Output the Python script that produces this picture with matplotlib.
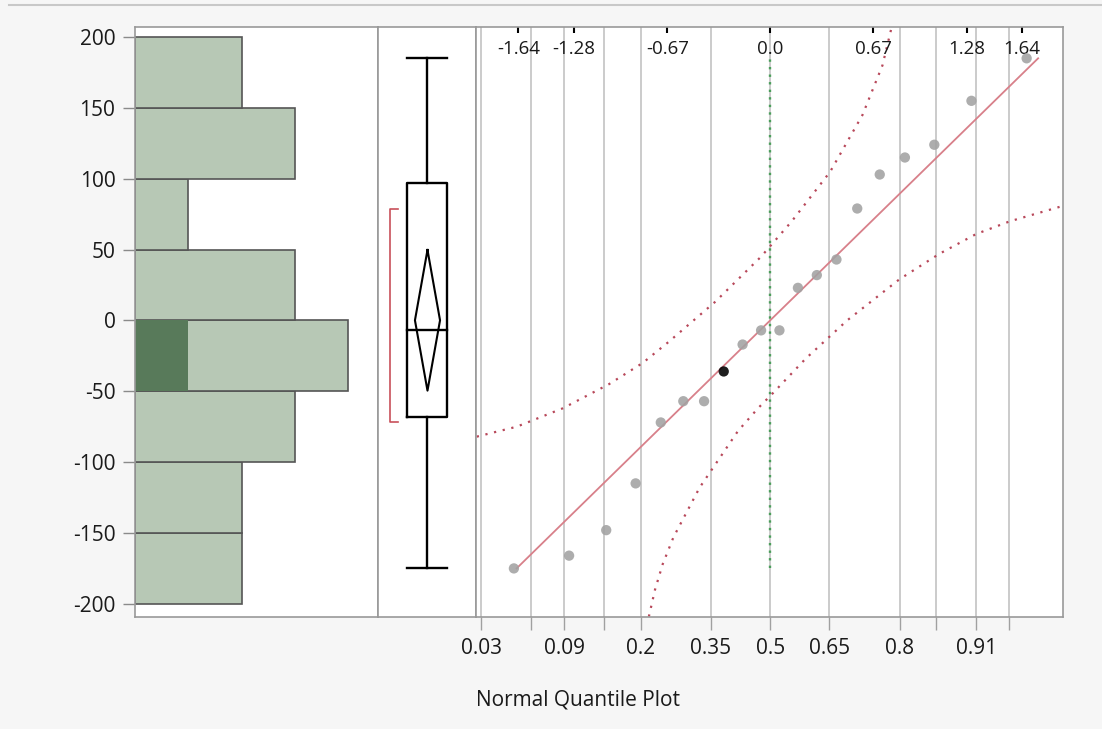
import numpy as np
import matplotlib
matplotlib.use('Agg')
import matplotlib.pyplot as plt
from matplotlib.lines import Line2D
from statistics import NormalDist

plt.rcParams['font.family'] = ['Open Sans', 'DejaVu Sans']
plt.rcParams['axes.unicode_minus'] = False

values = [-175, -166, -148, -115, -72, -57, -57, -36, -17, -7,
          -7, 23, 32, 43, 79, 103, 115, 124, 155, 185]
selected = 7  # highlighted row (black dot / dark bar)

bin_edges = [-200, -150, -100, -50, 0, 50, 100, 150, 200]
y_ticks = [-200, -150, -100, -50, 0, 50, 100, 150, 200]

# probability grid of the normal quantile axis
grid_probs = [0.03, 0.06, 0.09, 0.14, 0.2, 0.35, 0.5, 0.65, 0.8, 0.86, 0.91, 0.94]
grid_labels = ['0.03', '', '0.09', '', '0.2', '0.35', '0.5', '0.65', '0.8', '', '0.91', '']
top_quantiles = [-1.64, -1.28, -0.67, 0.0, 0.67, 1.28, 1.64]
top_labels = ['-1.64', '-1.28', '-0.67', '0.0', '0.67', '1.28', '1.64']

# confidence band curves (normal quantile, value)
upper_z = [-1.91, -1.65, -1.35, -1.05, -0.83, -0.66, -0.36, -0.06, 0.14, 0.39, 0.60, 0.73, 0.79]
upper_v = [-82, -75, -62, -45, -30, -15, 13, 45, 70, 105, 145, 180, 207]
lower_z = [-0.79, -0.75, -0.70, -0.63, -0.46, -0.21, -0.08, 0.02, 0.23, 0.50, 0.84, 1.10, 1.34, 1.56, 1.91]
lower_v = [-209, -190, -172, -153, -118, -78, -62, -51, -27, 0, 29, 47, 61, 70, 81]

W, H = 1102, 729
fig = plt.figure(figsize=(W / 100, H / 100), dpi=100, facecolor='#f6f6f6')

top_px, bot_px = 27, 617
ylim = (-209.3, 207.1)


def frac_axes(x0, x1):
    return fig.add_axes([x0 / W, 1 - bot_px / H, (x1 - x0) / W, (bot_px - top_px) / H])


ax_h = frac_axes(135, 378)
ax_b = frac_axes(378, 476)
ax_q = frac_axes(476, 1063)

frame = '#999999'
for a in (ax_h, ax_b, ax_q):
    a.set_ylim(*ylim)
    a.set_facecolor('white')
    for s in a.spines.values():
        s.set_color(frame)
        s.set_linewidth(1.2)

# ---- histogram
vals = np.array(values)
counts, _ = np.histogram(vals, bins=bin_edges)
centers = (np.array(bin_edges[:-1]) + np.array(bin_edges[1:])) / 2
ax_h.barh(centers, counts, height=50, left=0, color='#b7c8b5', edgecolor='#555555', linewidth=1.2)
sel_bin = np.digitize([values[selected]], bin_edges)[0] - 1
ax_h.barh(centers[sel_bin], 1, height=50, color='#587a5a', edgecolor='none')
ax_h.set_xlim(0, 243 / 53.25)
ax_h.set_xticks([])
ax_h.set_yticks(y_ticks)
ax_h.tick_params(axis='y', length=8.6, width=1, color='#8a8a8a', pad=5.5,
                 labelsize=15, labelcolor='#1a1a1a')

# ---- box plot
ax_b.set_xlim(0, 1)
ax_b.set_xticks([])
ax_b.set_yticks([])
q1, med, q3 = np.percentile(vals, [25, 50, 75], method='weibull')
cx, hw = 0.505, 0.204
lw_box = 1.7
ax_b.plot([cx, cx], [vals.min(), q1], color='black', lw=lw_box)
ax_b.plot([cx, cx], [q3, vals.max()], color='black', lw=lw_box)
ax_b.plot([cx - hw, cx + hw], [vals.min()] * 2, color='black', lw=lw_box)
ax_b.plot([cx - hw, cx + hw], [vals.max()] * 2, color='black', lw=lw_box)
ax_b.plot([cx - hw, cx + hw, cx + hw, cx - hw, cx - hw], [q1, q1, q3, q3, q1], color='black', lw=lw_box)
ax_b.plot([cx - hw, cx + hw], [med, med], color='black', lw=lw_box)
# means diamond (95% CI of the mean)
mean = vals.mean()
sd = vals.std(ddof=1)
half = 2.093 * sd / np.sqrt(len(vals))
dw = 0.128
ax_b.plot([cx, cx + dw, cx, cx - dw, cx], [mean + half, mean, mean - half, mean, mean + half],
          color='black', lw=1.5)
# shortest half bracket
k = len(vals) // 2 + 1
widths = [vals[i + k - 1] - vals[i] for i in range(len(vals) - k + 1)]
i0 = int(np.argmin(widths))
lo, hi = vals[i0], vals[i0 + k - 1]
bx, bt = 0.122, 0.204
ax_b.plot([bt, bx, bx, bt], [lo, lo, hi, hi], color='#c8505a', lw=1.2)

# ---- normal quantile plot
nd = NormalDist()
zlim = (-1.915, 1.905)
ax_q.set_xlim(*zlim)
grid_z = [nd.inv_cdf(p) for p in grid_probs]
for gz in grid_z:
    ax_q.axvline(gz, color='#c2c2c2', lw=1.2, zorder=0)
ax_q.set_xticks(grid_z)
ax_q.set_xticklabels(grid_labels)
ax_q.tick_params(axis='x', length=9.4, width=1, color='#a0a0a0', pad=6, labelsize=15, labelcolor='#1a1a1a')
ax_q.set_yticks([])

n = len(vals)
zq = np.array([nd.inv_cdf((i + 1) / (n + 1)) for i in range(n)])

# green median line, spanning data range
ax_q.plot([0, 0], [vals.min(), vals.max()], color='#4a9e5a', lw=1.7, ls=(0, (1, 2.2)), zorder=1)

# bands
ax_q.plot(upper_z, upper_v, color='#b8485a', lw=1.6, ls=(0, (1, 3)), zorder=2)
ax_q.plot(lower_z, lower_v, color='#b8485a', lw=1.6, ls=(0, (1, 3)), zorder=2)

# fitted line from min to max value
zl = np.array([(vals.min() - mean) / sd, (vals.max() - mean) / sd])
ax_q.plot(zl, mean + sd * zl, color='#d8808a', lw=1.3, zorder=3)

colors = ['#a2a2a2'] * n
colors[selected] = 'black'
ax_q.scatter(zq, vals, s=55, c=colors, edgecolors='none', zorder=4, alpha=0.88)

# top quantile axis: small inward ticks and inside labels
sec = ax_q.secondary_xaxis('top')
sec.set_xticks(top_quantiles)
sec.tick_params(direction='in', length=4.5, width=1.5, color='black', labeltop=False)
sec.spines['top'].set_visible(False)
for zt, lab in zip(top_quantiles, top_labels):
    ax_q.text(zt, 0.962, lab, transform=ax_q.get_xaxis_transform(), ha='center', va='center',
              fontsize=13.5, color='#1a1a1a')

fig.text(476 / W, 1 - 700 / H, 'Normal Quantile Plot', ha='left', va='center', fontsize=15, color='#1a1a1a')
fig.add_artist(Line2D([9 / W, 1], [1 - 5 / H] * 2, color='#c8c8c8', lw=1.5))

fig.savefig('out.png', dpi=100, facecolor=fig.get_facecolor())
